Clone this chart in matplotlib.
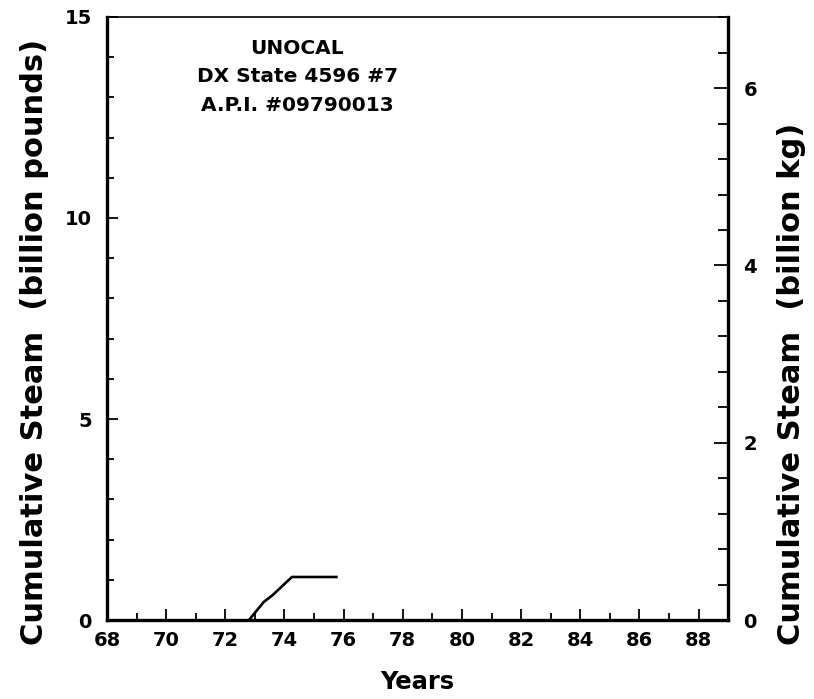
#!/usr/bin/env python3

'''cumulative steam production plot for DX State 4596 #7'''

import matplotlib
matplotlib.use('Agg')
import matplotlib.pyplot as plt
from matplotlib.ticker import MultipleLocator

LB_TO_KG = 0.45359237

# year, cumulative steam (billion pounds)
years = [72.8, 73.3, 73.6, 74.25, 75.8]
steam_lb = [0.0, 0.45, 0.62, 1.07, 1.07]

x_ticks = list(range(68, 89, 2))
y_ticks_lb = [0, 5, 10, 15]
y_ticks_kg = [0, 2, 4, 6]

well_title = ['UNOCAL', 'DX State 4596 #7', 'A.P.I. #09790013']

plt.rcParams['font.family'] = ['DejaVu Sans']
plt.rcParams['font.weight'] = 'bold'

fig = plt.figure(figsize=(8.14, 6.99), dpi=100)
ax = fig.add_axes([0.1315, 0.113, 0.763, 0.8627])

ax.plot(years, steam_lb, color='black', lw=1.9, solid_capstyle='butt')

ax.set_xlim(68, 89)
ax.set_ylim(0, 15)
ax.set_xticks(x_ticks)
ax.set_yticks(y_ticks_lb)
ax.xaxis.set_minor_locator(MultipleLocator(1))
ax.yaxis.set_minor_locator(MultipleLocator(1))
ax.tick_params(which='both', direction='in', width=1.3, labelsize=14)
ax.tick_params(which='major', length=8)
ax.tick_params(which='minor', length=5)
ax.tick_params(axis='x', pad=8)
ax.tick_params(axis='y', pad=11)
ax.tick_params(axis='both', which='both', top=False, right=False)
for s in ['left', 'bottom', 'right']:
    ax.spines[s].set_linewidth(2.4)
ax.spines['top'].set_linewidth(1.2)

ax.set_xlabel('Years', fontsize=17.5, fontweight='bold', labelpad=14)

# secondary axis in kg
ax2 = ax.twinx()
ax2.set_ylim(0, 15 * LB_TO_KG)
ax2.set_yticks(y_ticks_kg)
ax2.yaxis.set_minor_locator(MultipleLocator(0.4))
ax2.tick_params(which='both', direction='in', width=1.3, labelsize=14, pad=11)
ax2.tick_params(which='major', length=10)
ax2.tick_params(which='minor', length=7)
for s in ax2.spines.values():
    s.set_visible(False)

# axis titles placed by hand, they sit further out than the defaults
fig.text(35 / 814, (699 - 645) / 699, 'Cumulative Steam  (billion pounds)',
         rotation=90, ha='center', va='bottom', fontsize=22, fontweight='bold')
fig.text(791 / 814, (699 - 645) / 699, 'Cumulative Steam  (billion kg)',
         rotation=90, ha='center', va='bottom', fontsize=22, fontweight='bold')

for i, line in enumerate(well_title):
    ax.text(0.306, 0.947 - i * 0.0465, line, transform=ax.transAxes,
            ha='center', va='center', fontsize=14.5, fontweight='bold')

fig.savefig('out.png', dpi=100)
